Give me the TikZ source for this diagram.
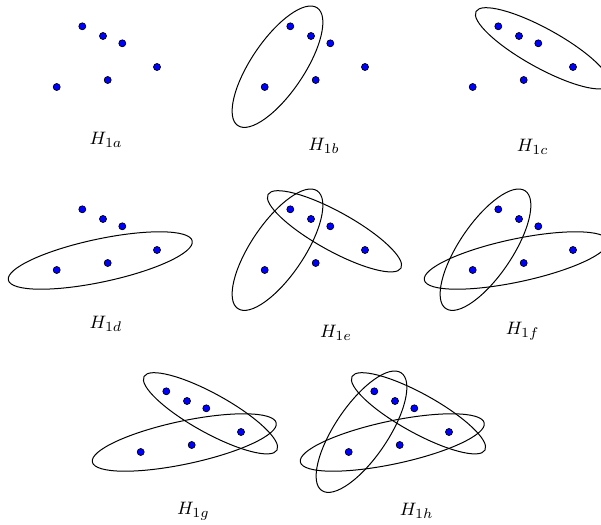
\documentclass[tikz,border=0pt]{standalone}
\begin{document}
\begin{tikzpicture}[x=0.5pt,y=-0.5pt,
  vtx/.style={circle,fill=blue,draw=black,line width=0.35pt,inner sep=0pt,minimum size=3.5pt},
  hedge/.style={draw=black,line width=0.5pt},
  lab/.style={inner sep=0pt,font=\fontsize{9.5}{11}\selectfont}]
\useasboundingbox (0,0) rectangle (601,525);
\clip (0,0) rectangle (601,525);
\newcommand\panelpts[3]{%
 \begin{scope}[shift={(#2,#3)}]
  \node[vtx] (#1-1) at (82.3,26.3) {};
  \node[vtx] (#1-2) at (103,36) {};
  \node[vtx] (#1-3) at (122.3,43.3) {};
  \node[vtx] (#1-4) at (157,67) {};
  \node[vtx] (#1-5) at (56.7,87) {};
  \node[vtx] (#1-6) at (107.7,80) {};
 \end{scope}}
\newcommand\edgeB[2]{\draw[hedge,shift={(#1+69.5,#2+66.7)},rotate=56] (0,0) ellipse [x radius=71,y radius=26.5];}
\newcommand\edgeC[2]{\draw[hedge,shift={(#1+126.5,#2+48.3)},rotate=-29] (0,0) ellipse [x radius=76,y radius=19.5];}
\newcommand\edgeD[2]{\draw[hedge,shift={(#1+100.3,#2+77.5)},rotate=12] (0,0) ellipse [x radius=94,y radius=21.5];}
% a
\panelpts{a}{0}{0}
% b
\edgeB{208}{0}
\panelpts{b}{208}{0}
% c
\edgeC{416}{0}
\panelpts{c}{416}{0}
% d
\edgeD{0}{183}
\panelpts{d}{0}{183}
% e
\edgeB{208}{183}
\edgeC{208}{183}
\panelpts{e}{208}{183}
% f
\edgeB{416}{183}
\edgeD{416}{183}
\panelpts{f}{416}{183}
% g
\edgeC{84}{365}
\edgeD{84}{365}
\panelpts{g}{84}{365}
% h
\edgeB{292}{365}
\edgeC{292}{365}
\edgeD{292}{365}
\panelpts{h}{292}{365}
% labels
\node[lab] (la) at (106.2,139.5) {$H_{1a}$};
\node[lab] (lb) at (324,146) {$H_{1b}$};
\node[lab] (lc) at (532.7,146.7) {$H_{1c}$};
\node[lab] (ld) at (106,324) {$H_{1d}$};
\node[lab] (le) at (336,333) {$H_{1e}$};
\node[lab] (lf) at (522.7,331) {$H_{1f}$};
\node[lab] (lg) at (193.3,511.5) {$H_{1g}$};
\node[lab] (lh) at (416.7,511) {$H_{1h}$};
\end{tikzpicture}
\end{document}
